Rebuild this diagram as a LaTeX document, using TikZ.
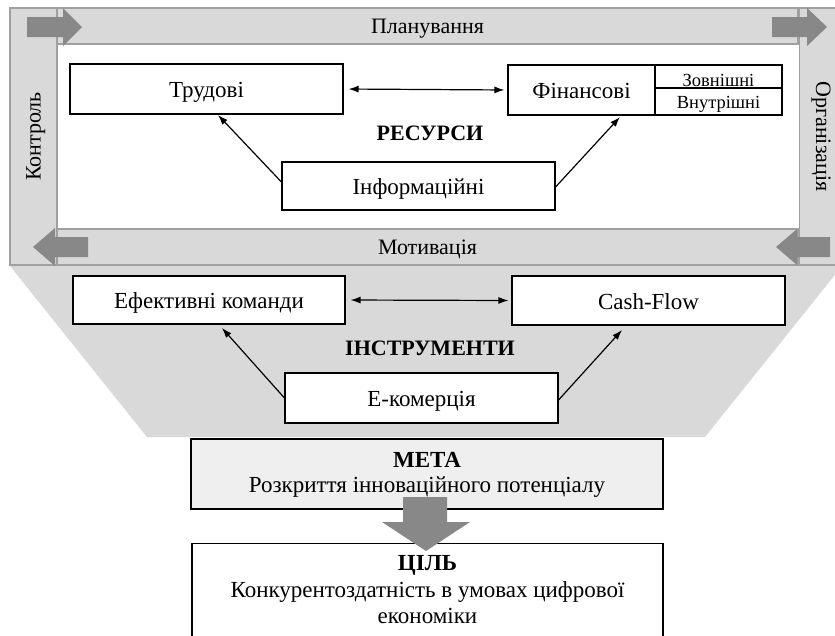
\documentclass[tikz,border=0pt]{standalone}
\usepackage{fontspec}
\setmainfont{Liberation Serif}
\usetikzlibrary{arrows.meta}
\definecolor{barfill}{HTML}{D9D9D9}
\definecolor{barline}{HTML}{A0A0A0}
\definecolor{arrfill}{HTML}{888888}
\definecolor{metafill}{HTML}{EFEFEF}
\begin{document}
\begin{tikzpicture}[x=1pt,y=-1pt,
  bar/.style={draw=barline, fill=barfill, line width=1.2pt, inner sep=0pt, text height=17pt, text depth=3pt, font=\fontsize{22}{26}\selectfont},
  box/.style={draw=black, fill=white, line width=1.1pt, inner sep=0pt, text height=18.5pt, text depth=1pt, font=\fontsize{23}{27}\selectfont},
  small/.style={draw=black, fill=white, line width=1.1pt, inner sep=0pt, font=\fontsize{18.5}{20}\selectfont},
  ttl/.style={inner sep=0pt, font=\fontsize{22}{26}\selectfont\bfseries},
  plain/.style={inner sep=0pt, align=center, font=\fontsize{23}{26}\selectfont},
  con/.style={-{Latex[length=10pt,width=7pt]}, line width=1.2pt},
  dcon/.style={{Latex[length=10pt,width=7pt]}-{Latex[length=10pt,width=7pt]}, line width=1.2pt},
  blk/.style={fill=arrfill, draw=none}]
\useasboundingbox (0,0) rectangle (835,635);
\clip (0,0) rectangle (835,635);
\fill[white] (0,0) rectangle (835,635);

% funnel
\fill[barfill] (10,266) -- (842,266) -- (705,437) -- (147,437) -- cycle;

% frame bars
\node[bar, rotate=90, minimum width=257, minimum height=47] (ctrl) at (33.5,136.5) {Контроль};
\node[bar, rotate=-90, minimum width=257, minimum height=47] (org) at (823,136.5) {Організація};
\node[bar, minimum width=741, minimum height=36] (plan) at (427.5,26) {Планування};
\node[bar, minimum width=741, minimum height=36] (motiv) at (427.5,247) {Мотивація};

% block arrows of the frame
\fill[blk] (27,17) -- (63,17) -- (63,8) -- (82,27) -- (63,46) -- (63,37) -- (27,37) -- cycle;
\fill[blk] (772,17) -- (807,17) -- (807,8) -- (827,27) -- (807,46) -- (807,37) -- (772,37) -- cycle;
\fill[blk] (88,237) -- (55,237) -- (55,228) -- (33,247) -- (55,266) -- (55,257) -- (88,257) -- cycle;
\fill[blk] (830,237) -- (797,237) -- (797,229) -- (776,247) -- (797,265) -- (797,257) -- (830,257) -- cycle;

% resources
\node[box, minimum width=273, minimum height=50] (trud) at (206.5,89) {Трудові};
\node[box, minimum width=147, minimum height=50] (fin) at (581.5,90) {Фінансові};
\node[small, text height=19pt, text depth=0pt, minimum width=127, minimum height=23] (zovn) at (718.5,76.5) {Зовнішні};
\node[small, text height=15pt, text depth=1pt, minimum width=127, minimum height=27] (vnut) at (718.5,101.5) {Внутрішні};
\node[box, minimum width=273, minimum height=48] (inf) at (418.5,186) {Інформаційні};
\node[ttl] (res) at (430,133) {РЕСУРСИ};
\draw[dcon, shorten <=5pt, shorten >=3pt] (trud.east) -- (fin.west);
\draw[con] (inf.west |- 0,182) -- (218,115);
\draw[con] (inf.east |- 0,187) -- (620,117);

% instruments
\node[box, minimum width=272, minimum height=48] (efk) at (209,300) {Ефективні команди};
\node[box, minimum width=273, minimum height=49] (cash) at (648.5,300.5) {Cash-Flow};
\node[box, minimum width=273, minimum height=50] (ekom) at (421.5,398) {Е-комерція};
\node[ttl] (instr) at (430,348) {ІНСТРУМЕНТИ};
\draw[dcon, shorten <=5pt, shorten >=3pt] (efk.east) -- (cash.west);
\draw[con] (ekom.west |- 0,398) -- (222,328);
\draw[con] (ekom.east |- 0,400) -- (622,330);

% goal boxes
\node[box, fill=metafill, minimum width=472, minimum height=70] (meta) at (427,474) {};
\node[plain] (metat) at (427,475) {\textbf{МЕТА}\\[-1pt]Розкриття інноваційного потенціалу};
\node[box, minimum width=471, minimum height=110, anchor=north] (cil) at (427.5,543) {};
\node[plain] (cilt) at (427.5,590) {\textbf{ЦІЛЬ}\\[1pt]Конкурентоздатність в умовах цифрової\\економіки};
\fill[blk] (403,497) -- (447,497) -- (447,522) -- (470,522) -- (426,551) -- (382,522) -- (403,522) -- cycle;
\end{tikzpicture}
\end{document}
